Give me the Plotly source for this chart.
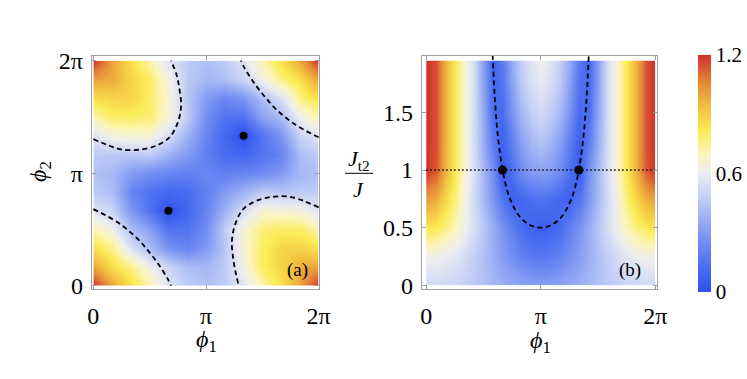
import numpy as np
import plotly.graph_objects as go

PI = np.pi

# panel (a): grid in units of pi (rows = phi2, cols = phi1)
phi_a = [0, 1/6, 1/3, 1/2, 2/3, 5/6, 1, 7/6, 4/3, 3/2, 5/3, 11/6, 2]
z_a = [
    [1.2, 1.0, .85, .72, .56, .47, .43, .47, .56, .72, .85, 1.0, 1.2],
    [1.0, .85, .76, .62, .5, .42, .4, .46, .64, .8, .88, .98, 1.0],
    [.85, .76, .55, .42, .28, .22, .3, .45, .66, .8, .88, .88, .85],
    [.72, .62, .42, .33, .15, .15, .25, .47, .66, .78, .8, .8, .72],
    [.56, .5, .28, .15, 0, .1, .22, .38, .54, .66, .66, .64, .56],
    [.47, .42, .22, .15, .1, .12, .2, .3, .38, .47, .45, .46, .47],
    [.43, .4, .3, .25, .22, .2, .23, .2, .22, .25, .3, .4, .43],
    [.47, .46, .45, .47, .38, .3, .2, .12, .1, .15, .22, .42, .47],
    [.56, .64, .66, .66, .54, .38, .22, .1, 0, .15, .28, .5, .56],
    [.72, .8, .8, .78, .66, .47, .25, .15, .15, .33, .42, .62, .72],
    [.85, .88, .88, .8, .66, .45, .3, .22, .28, .42, .55, .76, .85],
    [1.0, .98, .88, .8, .64, .46, .4, .42, .5, .62, .76, .85, 1.0],
    [1.2, 1.0, .85, .72, .56, .47, .43, .47, .56, .72, .85, 1.0, 1.2],
]

# dashed curves of panel (a), units of pi
bl_x = [0, .216, .379, .498, .587, .661, .69]
bl_y = [.681, .563, .43, .296, .178, .059, 0]
tl_x = [0, .142, .261, .409, .557, .676, .75, .779, .764, .741, .69]
tl_y = [1.304, 1.244, 1.209, 1.209, 1.244, 1.319, 1.452, 1.6, 1.748, 1.867, 2.0]
br_x = [2.0, 1.86, 1.74, 1.6, 1.45, 1.33, 1.26, 1.23, 1.24, 1.26, 1.29]
br_y = [.696, .756, .791, .791, .756, .681, .548, .4, .252, .133, 0]
tr_x = [2.0, 1.784, 1.621, 1.502, 1.413, 1.339, 1.31]
tr_y = [1.319, 1.437, 1.57, 1.704, 1.822, 1.941, 2.0]
dots_a = [2/3, 4/3]

# panel (b): phi1 in units of pi, J_t2/J rows
phi_b = [k/12 for k in range(25)]
jt = [0, 0.25, 0.5, 0.75, 1.0, 1.25, 1.5, 1.75, 1.95]
z_b = [
    [.52, .52, .51, .5, .48, .46, .43, .4, .37, .35, .33, .32, .31, .32, .33, .35, .37, .4, .43, .46, .48, .5, .51, .52, .52],
    [.62, .62, .6, .57, .53, .48, .43, .37, .31, .26, .21, .18, .17, .18, .21, .26, .31, .37, .43, .48, .53, .57, .6, .62, .62],
    [.84, .82, .77, .7, .62, .54, .45, .36, .27, .19, .12, .08, .06, .08, .12, .19, .27, .36, .45, .54, .62, .7, .77, .82, .84],
    [1.02, .98, .88, .77, .64, .52, .41, .28, .15, .07, .1, .13, .15, .13, .1, .07, .15, .28, .41, .52, .64, .77, .88, .98, 1.02],
    [1.2, 1.14, .97, .82, .67, .54, .4, .25, .04, .14, .25, .31, .33, .31, .25, .14, .04, .25, .4, .54, .67, .82, .97, 1.14, 1.2],
    [1.2, 1.15, .97, .82, .67, .53, .37, .18, .07, .2, .32, .4, .44, .4, .32, .2, .07, .18, .37, .53, .67, .82, .97, 1.15, 1.2],
    [1.2, 1.15, .97, .82, .67, .53, .35, .12, .12, .28, .4, .48, .52, .48, .4, .28, .12, .12, .35, .53, .67, .82, .97, 1.15, 1.2],
    [1.2, 1.15, .97, .82, .67, .53, .33, .1, .15, .33, .46, .54, .58, .54, .46, .33, .15, .1, .33, .53, .67, .82, .97, 1.15, 1.2],
    [1.2, 1.15, .97, .82, .67, .53, .32, .08, .18, .36, .48, .57, .61, .57, .48, .36, .18, .08, .32, .53, .67, .82, .97, 1.15, 1.2],
]
curve_phi = [.580, .592, .608, .631, .667, .700, .732, .780, .831, .892, .937, 1.0,
             1.063, 1.108, 1.169, 1.220, 1.268, 1.300, 1.333, 1.369, 1.392, 1.408, 1.420]
curve_j = [2.0, 1.75, 1.5, 1.25, 1.0, .85, .75, .65, .58, .53, .51, .5,
           .51, .53, .58, .65, .75, .85, 1.0, 1.25, 1.5, 1.75, 2.0]
dots_b = [2/3, 4/3]

scale = [[0, '#2e50ee'], [0.1, '#4a6cf0'], [0.2, '#6e8af2'], [0.3, '#97acf4'],
         [0.4, '#c3cff6'], [0.5, '#ecedf1'], [0.58, '#fbf5c0'], [0.68, '#fbec55'],
         [0.78, '#f2c040'], [0.88, '#e68a38'], [1.0, '#d3302b']]

SERIF = 'Liberation Serif'
pi_ = lambda v: [a * PI for a in v]

fig = go.Figure()
fig.add_trace(go.Contour(x=pi_(phi_a), y=pi_(phi_a), z=z_a, coloraxis='coloraxis',
                         contours=dict(coloring='heatmap', showlines=False),
                         line=dict(width=0), xaxis='x', yaxis='y', hoverinfo='skip'))
fig.add_trace(go.Contour(x=pi_(phi_b), y=jt, z=z_b, coloraxis='coloraxis',
                         contours=dict(coloring='heatmap', showlines=False),
                         line=dict(width=0), xaxis='x2', yaxis='y2', hoverinfo='skip'))

dash_line = dict(color='black', width=1.8, dash='5px,3.5px', shape='spline')
for cx, cy in [(bl_x, bl_y), (tl_x, tl_y), (br_x, br_y), (tr_x, tr_y)]:
    fig.add_trace(go.Scatter(x=pi_(cx), y=pi_(cy), mode='lines', line=dash_line,
                             xaxis='x', yaxis='y', showlegend=False))
fig.add_trace(go.Scatter(x=pi_(dots_a), y=pi_(dots_a), mode='markers',
                         marker=dict(color='black', size=8), xaxis='x', yaxis='y',
                         showlegend=False))

fig.add_trace(go.Scatter(x=[0, 2 * PI], y=[1, 1], mode='lines',
                         line=dict(color='black', width=1.6, dash='1.5px,2.5px'),
                         xaxis='x2', yaxis='y2', showlegend=False))
fig.add_trace(go.Scatter(x=pi_(curve_phi), y=curve_j, mode='lines', line=dash_line,
                         xaxis='x2', yaxis='y2', showlegend=False))
fig.add_trace(go.Scatter(x=pi_(dots_b), y=[1, 1], mode='markers',
                         marker=dict(color='black', size=9), xaxis='x2', yaxis='y2',
                         showlegend=False))

ax = dict(showline=True, linecolor='#a0a0a0', linewidth=1, mirror='ticks',
          ticks='inside', ticklen=4, tickcolor='#a0a0a0', showgrid=False,
          zeroline=False, automargin=False,
          tickfont=dict(family=SERIF, size=24, color='black'))
fig.update_layout(
    width=747, height=379, margin=dict(l=0, r=0, t=0, b=0, autoexpand=False),
    paper_bgcolor='white', plot_bgcolor='white', showlegend=False,
    font=dict(family=SERIF, color='black'),
    xaxis=dict(ax, domain=[0.1228, 0.4274], range=[-0.045, 6.300],
               tickvals=[0, PI, 2 * PI], ticktext=['0', 'π', '2π'], ticklabelstandoff=5),
    yaxis=dict(ax, domain=[0.2367, 0.8522], range=[-0.10, 6.414],
               tickvals=[0, PI, 2 * PI], ticktext=['0', 'π', '2π'], ticklabelstandoff=3),
    xaxis2=dict(ax, domain=[0.5645, 0.8789], range=[-0.123, 6.319], anchor='y2',
                tickvals=[0, PI, 2 * PI], ticktext=['0', 'π', '2π'], ticklabelstandoff=5),
    yaxis2=dict(ax, domain=[0.2367, 0.8522], range=[-0.035, 1.989], anchor='x2',
                tickvals=[0, 0.5, 1, 1.5], ticktext=['0', '0.5', '1', '1.5'],
                ticklabelstandoff=3),
    coloraxis=dict(cmin=0, cmax=1.2, colorscale=scale,
                   colorbar=dict(x=698.3 / 747, xanchor='left', y=1 - 291.7 / 379,
                                 yanchor='bottom', len=(291.7 - 55) / 379, lenmode='fraction',
                                 thickness=12.7, outlinewidth=0, xpad=0, ypad=0,
                                 tickvals=[0, 0.6, 1.2], ticktext=['0', '0.6', '1.2'],
                                 ticks='', tickfont=dict(family=SERIF, size=21, color='black'))),
)

ann = [
    dict(x=206, y=341, text='<i>ϕ</i><sub>1</sub>', size=24, angle=0),
    dict(x=540, y=342, text='<i>ϕ</i><sub>1</sub>', size=24, angle=0),
    dict(x=40, y=172, text='<i>ϕ</i><sub>2</sub>', size=24, angle=-90),
    dict(x=359, y=160, text='<i>J</i><sub>t2</sub>', size=22, angle=0),
    dict(x=358, y=189, text='<i>J</i>', size=22, angle=0),
    dict(x=297, y=270, text='(a)', size=19, angle=0),
    dict(x=630, y=270, text='(b)', size=19, angle=0),
]
for a in ann:
    fig.add_annotation(x=a['x'] / 747, y=1 - a['y'] / 379, xref='paper', yref='paper',
                       text=a['text'], showarrow=False, textangle=a['angle'],
                       font=dict(family=SERIF, size=a['size'], color='black'),
                       xanchor='center', yanchor='middle')
fig.add_shape(type='line', xref='paper', yref='paper', x0=345 / 747, x1=373 / 747,
              y0=1 - 173.3 / 379, y1=1 - 173.3 / 379, line=dict(color='black', width=1))

fig.write_html("out.html", config={'displayModeBar': False},
               post_script="document.body.style.margin='0';")
